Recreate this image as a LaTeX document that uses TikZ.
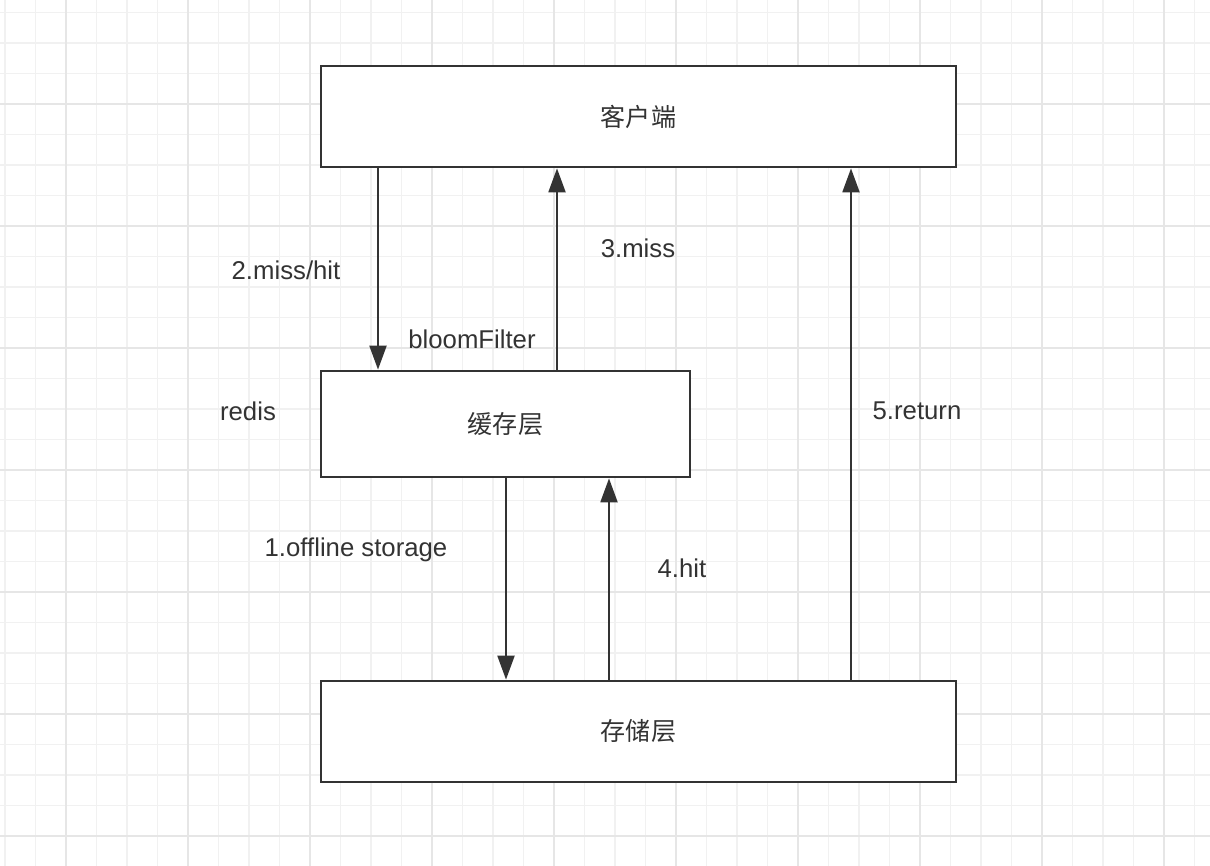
\documentclass[tikz,border=0pt]{standalone}
\usepackage{fontspec}
\setmainfont{Liberation Sans}
\newfontfamily\cjk{Noto Sans CJK SC}
\usetikzlibrary{arrows.meta}
\definecolor{ink}{HTML}{333333}
\definecolor{gridminor}{HTML}{F1F1F1}
\definecolor{gridmajor}{HTML}{E6E6E6}
\begin{document}
\begin{tikzpicture}[x=0.75pt,y=-0.75pt,
  box/.style={draw=ink,fill=white,line width=1.9pt,rectangle,inner sep=0pt,font=\cjk\fontsize{18.8pt}{22pt}\selectfont,text=ink},
  lbl/.style={font=\fontsize{19.3pt}{22pt}\selectfont,text=ink,inner sep=0pt},
  arr/.style={draw=ink,line width=2.2pt,-{Triangle[length=18pt,width=12.5pt]}}]
\useasboundingbox (0,0) rectangle (1210,866);
\fill[white] (0,0) rectangle (1210,866);
% grid
\foreach \i in {0,...,39} {
  \draw[gridminor,line width=1pt] ({5+30.5*\i},0) -- ({5+30.5*\i},866);
}
\foreach \i in {0,...,28} {
  \draw[gridminor,line width=1pt] (0,{12.5+30.5*\i}) -- (1210,{12.5+30.5*\i});
}
\foreach \i in {0,...,9} {
  \draw[gridmajor,line width=1pt] ({66+122*\i},0) -- ({66+122*\i},866);
}
\foreach \i in {0,...,6} {
  \draw[gridmajor,line width=1pt] (0,{104+122*\i}) -- (1210,{104+122*\i});
}
% boxes
\node[box,minimum width=476.25pt,minimum height=75.75pt] (client) at (638.5,116.5) {客户端};
\node[box,minimum width=276.75pt,minimum height=79.5pt] (cache) at (505.5,424) {缓存层};
\node[box,minimum width=476.25pt,minimum height=75.75pt] (store) at (638.5,731.5) {存储层};
% arrows
\draw[arr] (client.south -| 378,0) -- (cache.north -| 378,0);
\draw[arr] (cache.north -| 557,0) -- (client.south -| 557,0);
\draw[arr] (store.north -| 851,0) -- (client.south -| 851,0);
\draw[arr] (cache.south -| 506,0) -- (store.north -| 506,0);
\draw[arr] (store.north -| 609,0) -- (cache.south -| 609,0);
% labels
\node[lbl] (l2) at (286,270) {2.miss/hit};
\node[lbl] (l3) at (638,248) {3.miss};
\node[lbl] (lb) at (472,339) {bloomFilter};
\node[lbl] (lr) at (248,411) {redis};
\node[lbl] (l5) at (917,411) {5.return};
\node[lbl] (l1) at (356,550) {1.offline storage};
\node[lbl] (l4) at (682,568) {4.hit};
\end{tikzpicture}
\end{document}
